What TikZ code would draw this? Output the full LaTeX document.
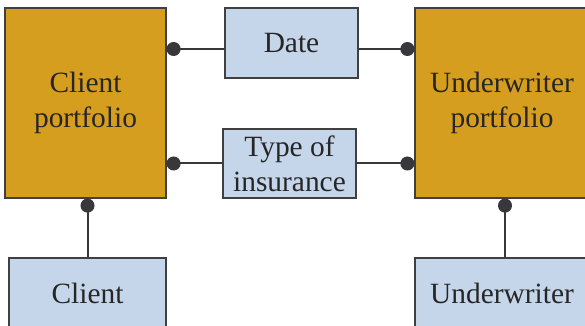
\documentclass[tikz,border=0pt]{standalone}
\usepackage{fontspec}
\setmainfont{Liberation Serif}
\usetikzlibrary{arrows.meta}
\definecolor{portfill}{RGB}{214,158,30}
\definecolor{entfill}{RGB}{198,214,234}
\definecolor{linkgray}{RGB}{55,55,60}
\begin{document}
\begin{tikzpicture}[x=0.5pt, y=-0.5pt,
    box/.style={draw=black!75, line width=0.6pt, align=center, inner sep=0pt,
        text=black!85, font=\fontsize{14.7}{17.5}\selectfont},
    portfolio/.style={box, fill=portfill},
    entity/.style={box, fill=entfill},
    link/.style={draw=linkgray, line width=1pt, -{Circle[length=7pt]}}]
    \clip (0,0) rectangle (585,326);
    \useasboundingbox (0,0) rectangle (585,326);
    % portfolios
    \node[portfolio, minimum width=80.5pt, minimum height=95pt] (cport) at (85.5,103) {Client\\portfolio};
    \node[portfolio, minimum width=87pt, minimum height=95pt] (uport) at (502,103) {Underwriter\\portfolio};
    % shared attributes
    \node[entity, minimum width=66.5pt, minimum height=35pt] (date) at (291.5,43) {Date};
    \node[entity, minimum width=66.5pt, minimum height=34.5pt] (type) at (289.5,163.5) {Type of\\insurance};
    % owners
    \node[entity, minimum width=78.5pt, minimum height=35pt] (client) at (87.5,293) {Client};
    \node[entity, minimum width=87pt, minimum height=35pt] (uwriter) at (502,293) {Underwriter};
    % links
    \coordinate (dl) at ([yshift=-3pt]date.west);
    \coordinate (dr) at ([yshift=-3pt]date.east);
    \draw[link] (dl) -- (dl -| cport.east);
    \draw[link] (dr) -- (dr -| uport.west);
    \draw[link] (type.west) -- (type.west -| cport.east);
    \draw[link] (type.east) -- (type.east -| uport.west);
    \draw[link] (client.north) -- (client.north |- cport.south);
    \coordinate (ut) at ([xshift=1.5pt]uwriter.north);
    \draw[link] (ut) -- (ut |- uport.south);
\end{tikzpicture}
\end{document}
